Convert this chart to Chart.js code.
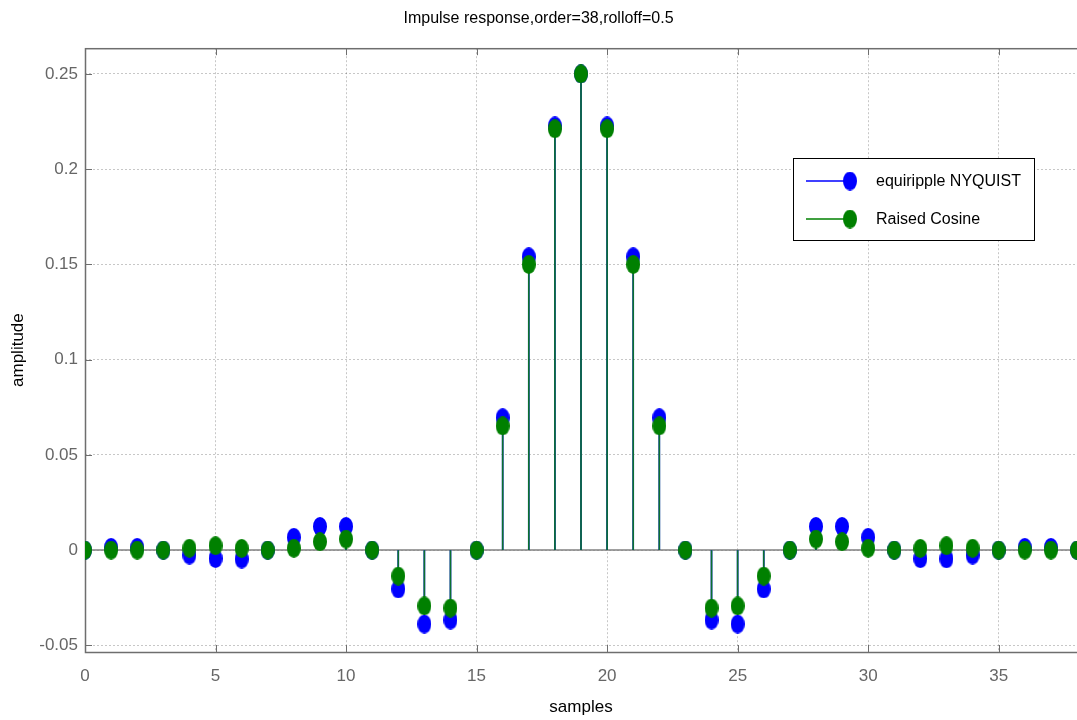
<!DOCTYPE html>
<html>
<head>
<meta charset="utf-8">
<script src="https://cdn.jsdelivr.net/npm/chart.js@4/dist/chart.umd.min.js"></script>
<style>
    body { margin: 0; background: #fff; }
    #wrap { width: 1077px; height: 720px; }
</style>
</head>
<body>
<div id="wrap"><canvas id="myChart" width="1077" height="720"></canvas></div>
<script>
const samples = [0, 1, 2, 3, 4, 5, 6, 7, 8, 9, 10, 11, 12, 13, 14, 15, 16, 17, 18, 19,
    20, 21, 22, 23, 24, 25, 26, 27, 28, 29, 30, 31, 32, 33, 34, 35, 36, 37, 38];

const equiripple = [0, 0.0014, 0.0014, 0, -0.0026, -0.0044, -0.0047, 0, 0.0067, 0.0124,
    0.0124, 0, -0.0204, -0.0388, -0.0367, 0, 0.0695, 0.154, 0.2227, 0.25,
    0.2227, 0.154, 0.0695, 0, -0.0367, -0.0388, -0.0204, 0, 0.0124, 0.0124,
    0.0067, 0, -0.0045, -0.0046, -0.0026, 0, 0.0014, 0.0014, 0];

const raisedCosine = [0, 0, 0, 0, 0.001, 0.0023, 0.0009, 0, 0.001, 0.0044,
    0.0058, 0, -0.0136, -0.0293, -0.0304, 0, 0.0652, 0.150, 0.2212, 0.25,
    0.2212, 0.150, 0.0652, 0, -0.0304, -0.0293, -0.0136, 0, 0.0058, 0.0044,
    0.001, 0, 0.0009, 0.0023, 0.001, 0, 0, 0, 0];

const seriesNames = ['equiripple NYQUIST', 'Raised Cosine'];
const seriesColors = ['#0000ff', '#008000'];

const xTicks = [0, 5, 10, 15, 20, 25, 30, 35];
const yTicks = [-0.05, 0, 0.05, 0.1, 0.15, 0.2, 0.25];

const FONT = "'Liberation Sans', Arial, sans-serif";

// matlab markers come out as tall ellipses in the picture
function makeDot(color) {
    let c = document.createElement('canvas');
    c.width = 14;
    c.height = 19;
    let g = c.getContext('2d');
    g.fillStyle = color;
    g.beginPath();
    g.ellipse(7, 9.5, 7, 9.5, 0, 0, Math.PI * 2);
    g.fill();
    return c;
}

const dots = seriesColors.map(makeDot);

function toPoints(values) {
    return samples.map((s, i) => ({x: s, y: values[i]}));
}

const framePlugin = {
    id: 'frame',
    beforeDatasetsDraw(chart) {
        const a = chart.chartArea;
        const ctx = chart.ctx;
        const sx = chart.scales.x, sy = chart.scales.y;
        ctx.save();
        ctx.strokeStyle = '#6e6e6e';
        ctx.lineWidth = 1.5;
        ctx.strokeRect(a.left + 0.5, a.top + 0.5, a.right - a.left + 2, a.bottom - a.top);
        // small inside tick marks like matlab
        ctx.lineWidth = 1;
        ctx.beginPath();
        xTicks.forEach(v => {
            let px = Math.round(sx.getPixelForValue(v)) + 0.5;
            ctx.moveTo(px, a.top);
            ctx.lineTo(px, a.top + 7);
            ctx.moveTo(px, a.bottom);
            ctx.lineTo(px, a.bottom - 7);
        });
        yTicks.forEach(v => {
            let py = Math.round(sy.getPixelForValue(v)) + 0.5;
            ctx.moveTo(a.left, py);
            ctx.lineTo(a.left + 7, py);
        });
        ctx.stroke();
        ctx.restore();
    }
};

const legendBox = {
    id: 'legendBox',
    afterDraw(chart) {
        const ctx = chart.ctx;
        const x = 793, y = 158, w = 241, h = 82;
        ctx.save();
        ctx.fillStyle = '#fff';
        ctx.fillRect(x, y, w, h);
        ctx.strokeStyle = '#000';
        ctx.lineWidth = 1;
        ctx.strokeRect(x + 0.5, y + 0.5, w, h);
        ctx.font = '16px ' + FONT;
        ctx.textBaseline = 'middle';
        for (let i = 0; i < seriesNames.length; i++) {
            let ly = y + 23 + i * 38;
            ctx.strokeStyle = seriesColors[i];
            ctx.lineWidth = 1.3;
            ctx.beginPath();
            ctx.moveTo(x + 13, ly);
            ctx.lineTo(x + 57, ly);
            ctx.stroke();
            ctx.drawImage(dots[i], x + 50, ly - 9.5);
            ctx.fillStyle = '#000';
            ctx.fillText(seriesNames[i], x + 83, ly + 1);
        }
        ctx.restore();
    }
};

const ctx = document.getElementById('myChart').getContext('2d');

const myChart = new Chart(ctx, {
    type: 'bar',
    data: {
        datasets: [
            {
                type: 'line',
                data: [{x: 0, y: 0}, {x: 38, y: 0}],
                borderColor: '#808080',
                borderWidth: 1.5,
                pointRadius: 0,
                order: 6
            },
            {
                data: toPoints(equiripple),
                backgroundColor: seriesColors[0],
                barThickness: 1,
                order: 5
            },
            {
                data: toPoints(raisedCosine),
                backgroundColor: '#0b7030',
                barThickness: 1,
                order: 4
            },
            {
                type: 'line',
                label: seriesNames[0],
                data: toPoints(equiripple),
                showLine: false,
                pointStyle: dots[0],
                order: 2
            },
            {
                type: 'line',
                label: seriesNames[1],
                data: toPoints(raisedCosine),
                showLine: false,
                pointStyle: dots[1],
                order: 1
            }
        ]
    },
    options: {
        responsive: false,
        animation: false,
        devicePixelRatio: 1,
        layout: {autoPadding: false, padding: {left: 0, right: 0, top: 0, bottom: 0}},
        datasets: {bar: {grouped: false}},
        plugins: {
            legend: {display: false},
            tooltip: {enabled: false},
            title: {
                display: true,
                text: 'Impulse response,order=38,rolloff=0.5',
                color: '#000',
                font: {family: FONT, size: 16, weight: 'normal'},
                padding: {top: 9, bottom: 20}
            }
        },
        scales: {
            x: {
                type: 'linear',
                min: 0,
                max: 38,
                offset: false,
                afterFit(scale) { scale.height = 68; },
                afterBuildTicks(scale) { scale.ticks = xTicks.map(v => ({value: v})); },
                grid: {color: 'rgba(0,0,0,0.22)', offset: false, drawTicks: false},
                border: {display: false, dash: [2, 2]},
                ticks: {
                    color: '#666',
                    font: {family: FONT, size: 17},
                    padding: 14,
                    maxRotation: 0
                },
                title: {
                    display: true,
                    text: 'samples',
                    color: '#000',
                    font: {family: FONT, size: 17},
                    padding: {top: 2, bottom: 2}
                }
            },
            y: {
                type: 'linear',
                min: -0.0535,
                max: 0.2635,
                afterFit(scale) { scale.width = 85; },
                afterBuildTicks(scale) { scale.ticks = yTicks.map(v => ({value: v})); },
                grid: {color: 'rgba(0,0,0,0.22)', drawTicks: false},
                border: {display: false, dash: [2, 2]},
                ticks: {
                    color: '#666',
                    font: {family: FONT, size: 17},
                    padding: 7,
                    callback: v => String(+v.toFixed(2))
                },
                title: {
                    display: true,
                    text: 'amplitude',
                    color: '#000',
                    font: {family: FONT, size: 17},
                    padding: {top: 8, bottom: 8}
                }
            }
        }
    },
    plugins: [framePlugin, legendBox]
});
</script>
</body>
</html>
